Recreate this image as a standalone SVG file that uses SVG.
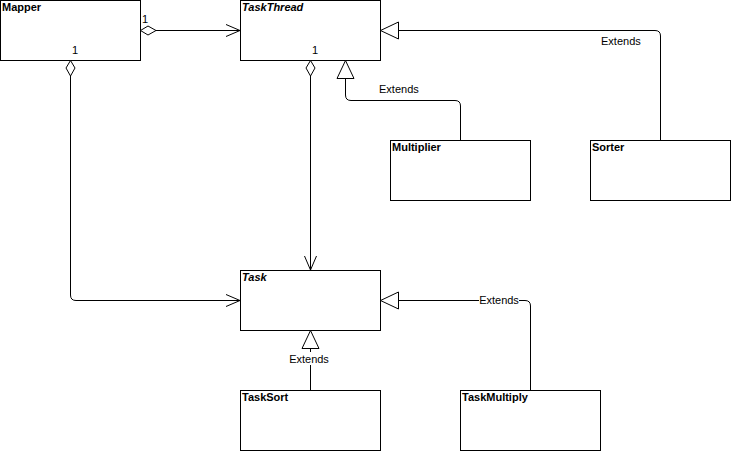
<svg xmlns="http://www.w3.org/2000/svg" width="732" height="454" viewBox="0 0 732 454">
<style>
.box{fill:#fff;stroke:#000;stroke-width:1}
.name{font-family:"Liberation Sans",Arial,sans-serif;font-size:11px;font-weight:bold;fill:#000}
.abs{font-style:italic}
.lbl{font-family:"Liberation Sans",Arial,sans-serif;font-size:11px;fill:#000}
.edge{fill:none;stroke:#000;stroke-width:1}
.dia{fill:#fff;stroke:#000;stroke-width:1}
.tri{fill:#fff;stroke:#000;stroke-width:1}
</style>
<rect x="0" y="0" width="732" height="454" fill="#fff"/>
<g id="Mapper">
  <rect class="box" x="0.5" y="0.5" width="140" height="60"/>
  <text class="name" x="2" y="11">Mapper</text>
</g>
<g id="TaskThread">
  <rect class="box" x="240.5" y="0.5" width="140" height="60"/>
  <text class="name abs" x="242" y="11">TaskThread</text>
</g>
<g id="Multiplier">
  <rect class="box" x="390.5" y="140.5" width="140" height="60"/>
  <text class="name" x="392" y="151">Multiplier</text>
</g>
<g id="Sorter">
  <rect class="box" x="590.5" y="140.5" width="140" height="60"/>
  <text class="name" x="592" y="151">Sorter</text>
</g>
<g id="Task">
  <rect class="box" x="240.5" y="270.5" width="140" height="60"/>
  <text class="name abs" x="242" y="281">Task</text>
</g>
<g id="TaskSort">
  <rect class="box" x="240.5" y="390.5" width="140" height="60"/>
  <text class="name" x="242" y="401">TaskSort</text>
</g>
<g id="TaskMultiply">
  <rect class="box" x="460.5" y="390.5" width="140" height="60"/>
  <text class="name" x="462" y="401">TaskMultiply</text>
</g>
<g id="connectors">
  <!-- Mapper -> TaskThread -->
  <path class="edge" d="M156,30.5 L240,30.5"/>
  <path class="edge" d="M226,24.5 L240,30.5 L226,36.5"/>
  <polygon class="dia" points="140.5,30.5 148,26 156,30.5 148,35"/>
  <text class="lbl" x="142" y="23">1</text>
  <!-- Mapper -> Task -->
  <path class="edge" d="M70.5,76 L70.5,295 Q70.5,300.5 76,300.5 L240,300.5"/>
  <path class="edge" d="M226,294.5 L240,300.5 L226,306.5"/>
  <polygon class="dia" points="70.5,60.5 75,68 70.5,76 66,68"/>
  <text class="lbl" x="72" y="54">1</text>
  <!-- TaskThread -> Task -->
  <path class="edge" d="M310.5,76 L310.5,270"/>
  <path class="edge" d="M304.5,256 L310.5,270 L316.5,256"/>
  <polygon class="dia" points="310.5,60.5 315,68 310.5,76 306,68"/>
  <text class="lbl" x="312" y="54">1</text>
  <!-- Multiplier -> TaskThread -->
  <path class="edge" d="M460.5,140 L460.5,106 Q460.5,100.5 455,100.5 L351,100.5 Q345.5,100.5 345.5,95 L345.5,78"/>
  <polygon class="tri" points="345.5,60.5 354,78.5 337,78.5"/>
  <text class="lbl" x="379" y="93">Extends</text>
  <!-- Sorter -> TaskThread -->
  <path class="edge" d="M660.5,140 L660.5,36 Q660.5,30.5 655,30.5 L398,30.5"/>
  <polygon class="tri" points="380.5,30.5 398.5,22 398.5,39"/>
  <text class="lbl" x="601" y="45">Extends</text>
  <!-- TaskMultiply -> Task -->
  <path class="edge" d="M530.5,390 L530.5,306 Q530.5,300.5 525,300.5 L398,300.5"/>
  <polygon class="tri" points="380.5,300.5 398.5,292 398.5,309"/>
  <rect x="479" y="293" width="40" height="13" fill="#fff"/>
  <text class="lbl" x="499" y="304" text-anchor="middle">Extends</text>
  <!-- TaskSort -> Task -->
  <path class="edge" d="M310.5,390 L310.5,348"/>
  <polygon class="tri" points="310.5,330.5 319,348.5 302,348.5"/>
  <rect x="289" y="352" width="40" height="13" fill="#fff"/>
  <text class="lbl" x="309" y="363" text-anchor="middle">Extends</text>
</g>
</svg>
